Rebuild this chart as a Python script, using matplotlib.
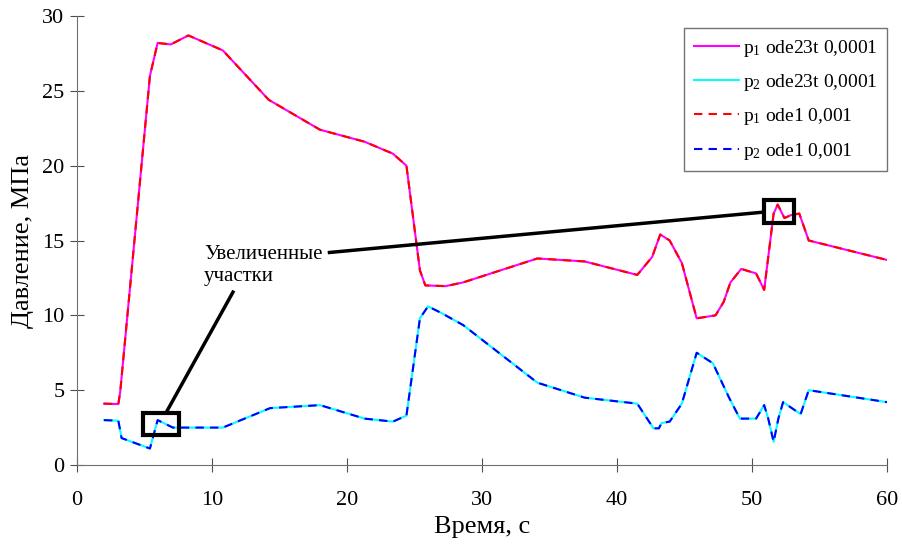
import matplotlib
matplotlib.use("Agg")
import matplotlib.pyplot as plt
import matplotlib.patches as patches

plt.rcParams['font.family'] = ['Liberation Serif', 'DejaVu Serif']
plt.rcParams['mathtext.fontset'] = 'custom'
plt.rcParams['mathtext.rm'] = 'Liberation Serif'
plt.rcParams['mathtext.it'] = 'Liberation Serif:italic'

# давление p1 (ode23t и ode1 совпадают)
t1 = [2.0, 3.06, 3.2, 5.4, 5.97, 6.94, 8.25, 10.8, 14.2, 18.0, 21.3, 23.4, 24.4,
      25.4, 25.8, 27.3, 28.6, 34.1, 37.6, 41.5, 42.6, 43.2, 43.9, 44.8, 45.9,
      47.3, 47.9, 48.4, 49.2, 50.3, 50.9, 51.6, 51.9, 52.4, 52.9, 53.5, 54.2,
      60.0]
p1 = [4.1, 4.07, 4.9, 26.0, 28.2, 28.1, 28.7, 27.7, 24.4, 22.4, 21.6, 20.8, 20.0,
      13.0, 12.0, 11.95, 12.2, 13.8, 13.6, 12.7, 13.9, 15.4, 15.0, 13.5, 9.8,
      10.0, 10.9, 12.2, 13.1, 12.8, 11.7, 16.8, 17.4, 16.5, 16.7, 16.8, 15.0,
      13.7]

# давление p2
t2 = [2.0, 3.06, 3.3, 5.4, 5.97, 7.1, 10.8, 14.3, 18.0, 21.3, 23.4, 24.4, 25.4,
      26.0, 27.0, 28.6, 34.1, 37.6, 41.5, 42.7, 43.1, 43.3, 43.9, 44.8, 45.9,
      47.1, 48.3, 49.1, 50.3, 50.9, 51.2, 51.6, 51.95, 52.3, 53.6, 54.2, 60.0]
p2 = [3.0, 2.96, 1.8, 1.1, 3.0, 2.5, 2.5, 3.8, 4.0, 3.1, 2.9, 3.3, 9.8,
      10.6, 10.15, 9.35, 5.5, 4.5, 4.1, 2.45, 2.45, 2.8, 2.9, 4.1, 7.5,
      6.8, 4.5, 3.1, 3.1, 4.0, 3.1, 1.55, 3.1, 4.2, 3.4, 5.0, 4.2]

labels = ['p$_\\mathregular{1}$ ode23t 0,0001', 'p$_\\mathregular{2}$ ode23t 0,0001',
          'p$_\\mathregular{1}$ ode1 0,001', 'p$_\\mathregular{2}$ ode1 0,001']

fig = plt.figure(figsize=(9.02, 5.44), dpi=100)
ax = fig.add_axes([0.0854, 0.1452, 0.898, 0.8254])

ax.plot(t1, p1, color='#ff00ff', lw=1.5, label=labels[0])
ax.plot(t2, p2, color='#00ffff', lw=1.5, label=labels[1])
ax.plot(t1, p1, color='#ff0000', lw=1.5, ls=(0, (4, 3)), label=labels[2])
ax.plot(t2, p2, color='#0000ff', lw=1.5, ls=(0, (4, 3)), label=labels[3])

# рамки увеличенных участков
for x0, y0, w, h in [(4.9, 2.0, 2.65, 1.5), (50.9, 16.2, 2.2, 1.5)]:
    ax.add_patch(patches.Rectangle((x0, y0), w, h, fill=False,
                                   edgecolor='black', lw=3, zorder=5))
ax.plot([18.7, 50.9], [14.2, 16.9], color='black', lw=2.5, zorder=5)
ax.plot([11.55, 6.6], [11.55, 3.5], color='black', lw=2.5, zorder=5)
ax.text(9.4, 13.35, 'Увеличенные\nучастки', fontsize=15, ha='left',
        va='center', linespacing=1.2)

ax.set_xlim(0, 60)
ax.set_ylim(0, 30)
ax.set_xticks(range(0, 61, 10))
ax.set_yticks(range(0, 31, 5))
ax.set_xlabel('Время, с', fontsize=19, labelpad=4)
ax.set_ylabel('Давление, МПа', fontsize=19, labelpad=6)
for s in ['top', 'right']:
    ax.spines[s].set_visible(False)
for s in ['left', 'bottom']:
    ax.spines[s].set_color('#707070')
ax.tick_params(direction='inout', length=10, color='#505050', labelsize=16,
               pad=4)
ax.tick_params(axis='x', pad=14)

leg = ax.legend(loc='upper right', bbox_to_anchor=(1.0, 0.973), fontsize=14,
                fancybox=False, edgecolor='#505050', handlelength=2.3,
                handletextpad=0.2, borderpad=0.5, labelspacing=0.68,
                borderaxespad=0)
leg.get_frame().set_linewidth(1.0)

fig.savefig('out.png', dpi=100)
